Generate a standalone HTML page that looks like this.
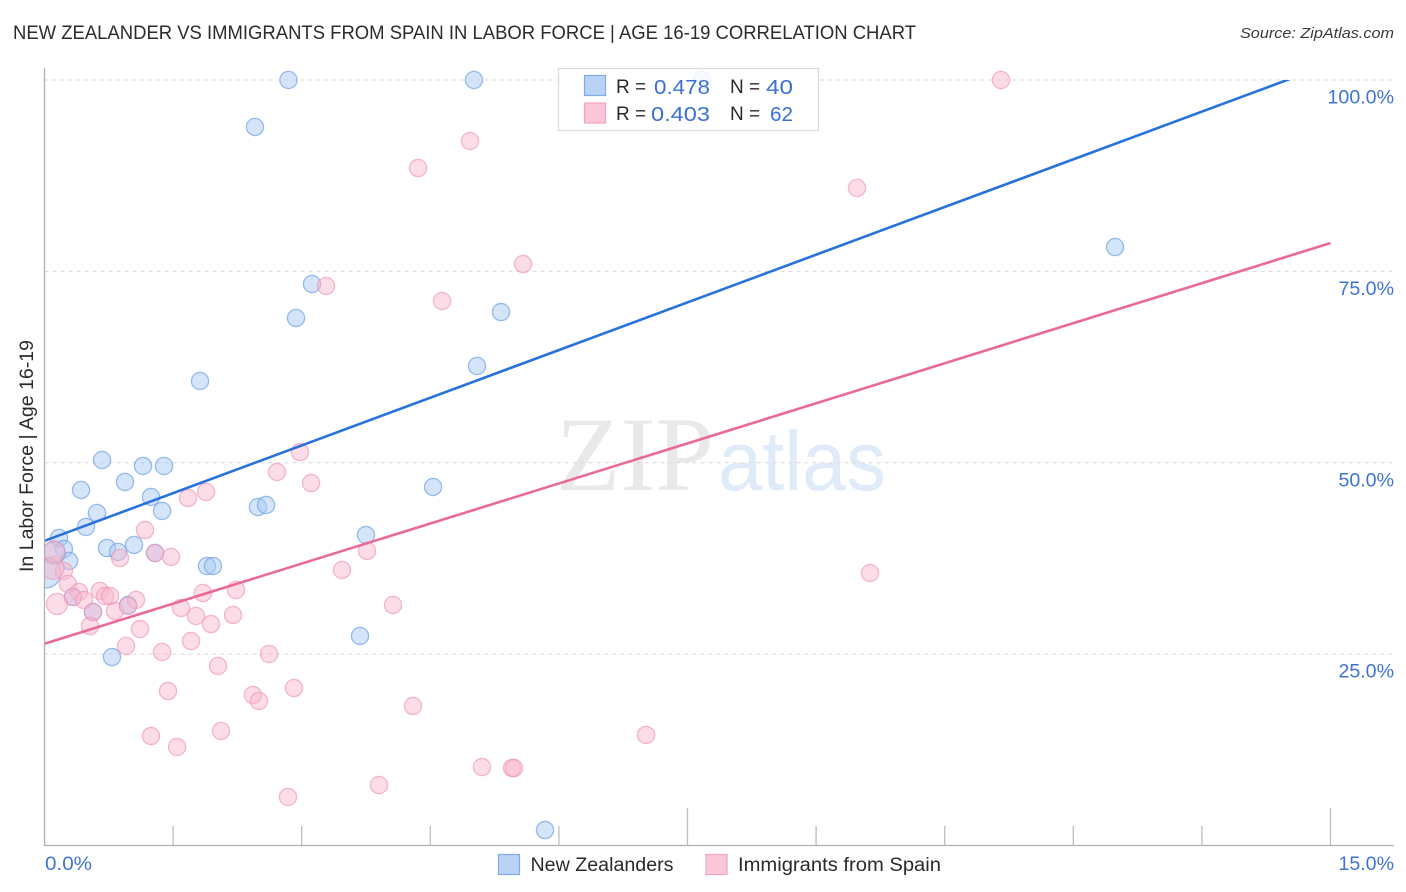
<!DOCTYPE html>
<html lang="en">
<head>
<meta charset="utf-8">
<title>New Zealander vs Immigrants from Spain in Labor Force</title>
<style>
html,body{margin:0;padding:0;background:#fff;width:1406px;height:892px;overflow:hidden}
svg{display:block}
text{font-family:"Liberation Sans",sans-serif}
.val{fill:#3a70d2;font-size:20px}
.dark{fill:#2a2a2e;font-size:19px}
.tick{fill:#3f74d3;font-size:19.6px}
</style>
</head>
<body>
<svg id="chart" xmlns="http://www.w3.org/2000/svg" width="1406" height="892" viewBox="0 0 1406 892">
  <defs>
    <clipPath id="plot-clip"><rect x="44.5" y="80" width="1350" height="766"/></clipPath>
    <clipPath id="point-clip"><rect x="44.5" y="60" width="1350" height="786"/></clipPath>
  </defs>
  <rect x="0" y="0" width="1406" height="892" fill="#ffffff"/>
  <text x="13" y="39" font-size="19.5" fill="#2b2b30" textLength="903" lengthAdjust="spacingAndGlyphs">NEW ZEALANDER VS IMMIGRANTS FROM SPAIN IN LABOR FORCE | AGE 16-19 CORRELATION CHART</text>
  <text x="1394" y="38" font-size="15" font-style="italic" fill="#3a3a3e" text-anchor="end" textLength="154" lengthAdjust="spacingAndGlyphs">Source: ZipAtlas.com</text>

  <g>
    <text x="556" y="490" style="font-family:'Liberation Serif',serif" font-size="106" fill="#e9e9e9" textLength="158" lengthAdjust="spacingAndGlyphs">ZIP</text>
    <text x="718" y="490" font-size="84" fill="#e0ebf9" textLength="168" lengthAdjust="spacingAndGlyphs">atlas</text>
  </g>

  <g id="grid"></g>
  <g id="points-blue" clip-path="url(#point-clip)"></g>
  <g id="points-pink" clip-path="url(#point-clip)"></g>
  <g id="trends" clip-path="url(#plot-clip)"></g>

  <g>
    <line x1="44.5" y1="68" x2="44.5" y2="846" stroke="#b0b0b0" stroke-width="1.3"/>
    <line x1="44" y1="845.5" x2="1394" y2="845.5" stroke="#b0b0b0" stroke-width="1.3"/>
    <g id="x-ticks"></g>
  </g>
  <g id="y-labels"></g>
  <text class="tick" x="45" y="870" textLength="47" lengthAdjust="spacingAndGlyphs">0.0%</text>
  <text class="tick" x="1394" y="870" text-anchor="end">15.0%</text>
  <text transform="translate(33,456) rotate(-90)" font-size="19" fill="#2a2a2e" text-anchor="middle" textLength="232" lengthAdjust="spacingAndGlyphs">In Labor Force | Age 16-19</text>

  <g>
    <rect x="558.5" y="68.5" width="260" height="62" fill="#ffffff" fill-opacity="0.82" stroke="#dcdcdc" stroke-width="1.3"/>
    <rect x="584.5" y="75.5" width="21" height="20" fill="#b9d3f7" stroke="#7fabe6" stroke-width="1.2"/>
    <rect x="584.5" y="103" width="21" height="20" fill="#fcc8d9" stroke="#f3a3bd" stroke-width="1.2"/>
    <text class="dark" x="616" y="93">R =</text>
    <text class="val" x="654" y="94" textLength="56" lengthAdjust="spacingAndGlyphs">0.478</text>
    <text class="dark" x="730" y="93">N =</text>
    <text class="val" x="766" y="94" textLength="27" lengthAdjust="spacingAndGlyphs">40</text>
    <text class="dark" x="616" y="120">R =</text>
    <text class="val" x="651" y="121" textLength="59" lengthAdjust="spacingAndGlyphs">0.403</text>
    <text class="dark" x="730" y="120">N =</text>
    <text class="val" x="770" y="121" textLength="23" lengthAdjust="spacingAndGlyphs">62</text>
  </g>

  <g>
    <rect x="498.5" y="854.5" width="21" height="20" fill="#b9d3f7" stroke="#7fabe6" stroke-width="1.2"/>
    <text class="dark" x="530.5" y="871" textLength="143" lengthAdjust="spacingAndGlyphs">New Zealanders</text>
    <rect x="706" y="854.5" width="21" height="20" fill="#fcc8d9" stroke="#f3a3bd" stroke-width="1.2"/>
    <text class="dark" x="738" y="871" textLength="203" lengthAdjust="spacingAndGlyphs">Immigrants from Spain</text>
  </g>
</svg>
<script>
var yTickValues = [25, 50, 75, 100];
var yTickLabels = ["25.0%", "50.0%", "75.0%", "100.0%"];
var xTickValues = [1.5, 3, 4.5, 6, 7.5, 9, 10.5, 12, 13.5, 15];
var xMajorTicks = [7.5, 15];

var blueX = [2.846,5.01,7.669,2.455,12.487,3.12,2.934,5.325,5.045,1.814,0.671,1.149,1.394,0.426,0.939,1.242,1.371,0.484,0.612,2.49,2.584,4.532,3.75,0.169,0.227,0.729,0.857,1.044,1.289,1.895,1.965,0.286,0.111,0.017,0.332,0.566,0.974,3.68,0.787,5.838];
var blueY = [100,100,100,93.86,78.18,73.35,68.91,69.69,62.64,60.68,50.36,49.58,49.58,46.44,47.49,45.53,43.7,41.61,43.44,44.22,44.48,46.83,40.56,40.17,38.73,38.86,38.34,39.26,38.21,36.51,36.51,37.17,38.21,35.6,32.46,30.5,31.42,27.37,24.62,2.02];
var blueWeight = [1,1,1,1,1,1,1,1,1,1,1,1,1,1,1,1,1,1,1,1,1,1,1,1,1,1,1,1,1,1,1,1,1.7,3,1,1,1,1,1,1];

var pinkX = [11.157,4.963,4.357,9.477,3.284,5.582,4.637,2.98,2.712,3.109,1.884,1.674,1.172,3.762,1.289,0.881,1.476,3.47,9.629,2.234,1.849,4.065,0.227,0.099,0.146,0.274,0.402,0.332,0.461,0.647,0.706,0.764,1.067,0.822,0.566,0.974,1.592,1.767,2.199,1.942,0.531,1.114,1.709,0.951,1.371,2.619,2.024,1.441,2.432,2.502,2.91,4.298,2.059,1.242,1.546,7.016,5.103,5.453,5.476,3.902,2.84,0.111];
var pinkY = [100,92.03,88.5,85.89,73.09,75.96,71.13,51.4,48.79,47.35,46.18,45.39,41.21,38.47,38.21,37.56,37.69,35.99,35.6,33.38,32.98,31.42,35.86,36.25,31.55,34.16,33.12,32.46,32.07,33.25,32.59,32.59,32.07,30.63,30.5,31.29,31.03,29.98,30.11,28.93,28.67,28.28,26.71,26.06,25.28,25.02,23.45,20.18,19.66,18.88,20.57,18.22,14.96,14.3,12.87,14.44,10.25,10.12,10.12,7.9,6.34,38.4];
var pinkWeight = [1,1,1,1,1,1,1,1,1,1,1,1,1,1,1,1,1,1,1,1,1,1,1,1.7,1.5,1,1,1,1,1,1,1,1,1,1,1,1,1,1,1,1,1,1,1,1,1,1,1,1,1,1,1,1,1,1,1,1,1,1,1,1,1.6];

var trendDomain = [0, 15];
var blueTrend = [39.8, 102.1];
var pinkTrend = [26.36, 78.7];

var NS = "http://www.w3.org/2000/svg";
function xScale(v){ return 44.5 + v * 85.733; }
function yScale(v){ return 845.5 - v * 7.655; }
function radius(w){ return 8.6 * Math.sqrt(w); }
function make(tag, attrs){
  var el = document.createElementNS(NS, tag);
  for (var k in attrs) el.setAttribute(k, attrs[k]);
  return el;
}

var grid = document.getElementById("grid");
var yLabels = document.getElementById("y-labels");
yTickValues.forEach(function(v, i){
  var line = make("line", {x1:44.5, x2:1394, y1:yScale(v), y2:yScale(v), stroke:"#d9d9d9", "stroke-width":1, "stroke-dasharray":"4 4"});
  
  
  grid.appendChild(line);
  var label = make("text", {x:1394, y:yScale(v) + 23.5, "text-anchor":"end", "class":"tick"});
  
  
  label.textContent = yTickLabels[i];
  yLabels.appendChild(label);
});

var xTicks = document.getElementById("x-ticks");
xTickValues.forEach(function(v){
  var major = xMajorTicks.indexOf(v) >= 0;
  var tick = make("line", {x1:xScale(v), x2:xScale(v), y1:major ? 808 : 826, y2:845.5, stroke:"#bdbdbd", "stroke-width":1.3});
  
  
  xTicks.appendChild(tick);
});

function drawPoints(groupId, xs, ys, ws, fill, stroke){
  var g = document.getElementById(groupId);
  xs.forEach(function(x, i){
    var c = make("circle", {cx:xScale(x), cy:yScale(ys[i]), r:radius(ws[i]), fill:fill, "fill-opacity":0.48, stroke:stroke, "stroke-opacity":0.68, "stroke-width":1.3});
    
    
    g.appendChild(c);
  });
}
drawPoints("points-blue", blueX, blueY, blueWeight, "#a5c8f5", "#6b9fe2");
drawPoints("points-pink", pinkX, pinkY, pinkWeight, "#f9b6cc", "#ee9ab6");

function drawTrend(values, color, name){
  var l = make("line", {x1:xScale(trendDomain[0]), y1:yScale(values[0]), x2:xScale(trendDomain[1]), y2:yScale(values[1]), stroke:color, "stroke-width":2.6});
  
  
  document.getElementById("trends").appendChild(l);
}
drawTrend(blueTrend, "#2872dc", "trend-line-new-zealanders");
drawTrend(pinkTrend, "#e96a9a", "trend-line-immigrants-from-spain");
</script>
</body>
</html>
